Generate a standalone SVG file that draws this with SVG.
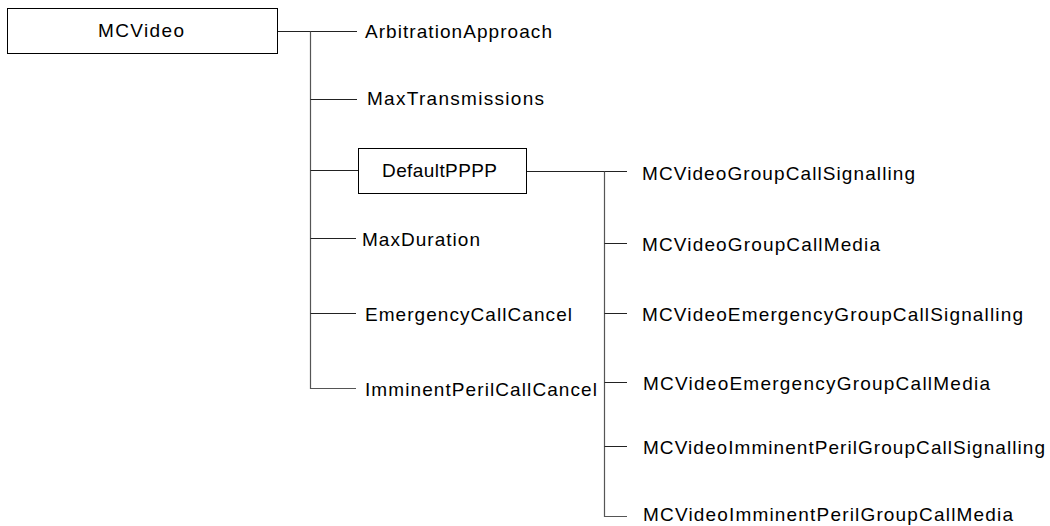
<svg xmlns="http://www.w3.org/2000/svg" width="1050" height="526" viewBox="0 0 1050 526">
<style>
.box{fill:#fff;stroke:#000;stroke-width:1}
.ln{stroke:#222;stroke-width:1;fill:none}
.tr{stroke:#555;stroke-width:1.2;fill:none}
text{font-family:"Liberation Sans",Arial,sans-serif;font-size:19px;fill:#000}
</style>
<rect width="1050" height="526" fill="#fff"/>
<g id="connectors">
<path class="ln" d="M277.5 31.5H357"/>
<path class="tr" d="M310.5 31.5V388.5H356"/>
<path class="ln" d="M310.5 99.5H357"/>
<path class="ln" d="M310.5 170.5H358"/>
<path class="ln" d="M310.5 238.5H356"/>
<path class="ln" d="M310.5 313.5H356"/>
<path class="ln" d="M526.5 171.5H627"/>
<path class="tr" d="M604.5 171.5V516.5H627"/>
<path class="ln" d="M604.5 243.5H627"/>
<path class="ln" d="M604.5 313.5H627"/>
<path class="ln" d="M604.5 382.5H627"/>
<path class="ln" d="M604.5 446.5H627"/>
</g>
<g id="n-mcvideo"><rect class="box" x="7.5" y="8.5" width="270" height="45"/><text x="98" y="37" textLength="86" lengthAdjust="spacing">MCVideo</text></g>
<g id="n-arbitration"><text x="365" y="38" textLength="187" lengthAdjust="spacing">ArbitrationApproach</text></g>
<g id="n-maxtrans"><text x="367" y="105" textLength="177" lengthAdjust="spacing">MaxTransmissions</text></g>
<g id="n-defaultpppp"><rect class="box" x="358.5" y="148.5" width="168" height="45"/><text x="382" y="177" textLength="115" lengthAdjust="spacing">DefaultPPPP</text></g>
<g id="n-maxduration"><text x="362" y="246" textLength="118" lengthAdjust="spacing">MaxDuration</text></g>
<g id="n-emergencycancel"><text x="365" y="321" textLength="207" lengthAdjust="spacing">EmergencyCallCancel</text></g>
<g id="n-imminentcancel"><text x="365" y="396" textLength="232" lengthAdjust="spacing">ImminentPerilCallCancel</text></g>
<g id="n-gcsig"><text x="642" y="180" textLength="273" lengthAdjust="spacing">MCVideoGroupCallSignalling</text></g>
<g id="n-gcmedia"><text x="642" y="251" textLength="238" lengthAdjust="spacing">MCVideoGroupCallMedia</text></g>
<g id="n-egcsig"><text x="642" y="321" textLength="381" lengthAdjust="spacing">MCVideoEmergencyGroupCallSignalling</text></g>
<g id="n-egcmedia"><text x="643" y="390" textLength="347" lengthAdjust="spacing">MCVideoEmergencyGroupCallMedia</text></g>
<g id="n-igcsig"><text x="643" y="454" textLength="402" lengthAdjust="spacing">MCVideoImminentPerilGroupCallSignalling</text></g>
<g id="n-igcmedia"><text x="643" y="521" textLength="370" lengthAdjust="spacing">MCVideoImminentPerilGroupCallMedia</text></g>
</svg>
